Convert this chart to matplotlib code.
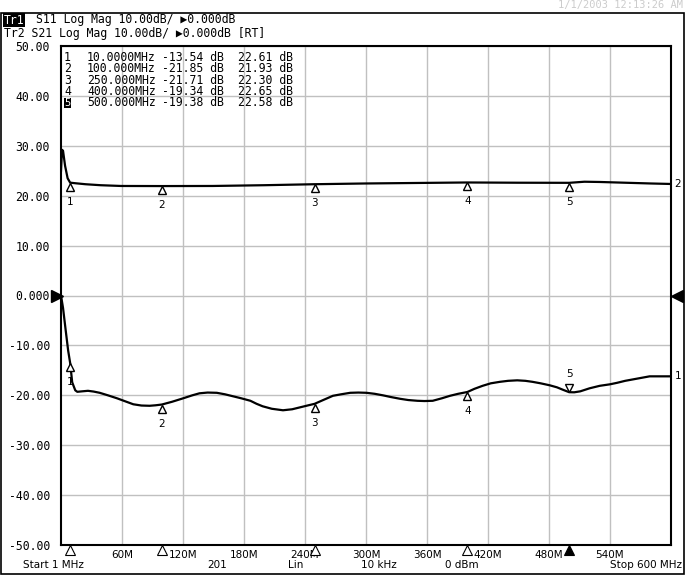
import matplotlib
matplotlib.use('Agg')
import matplotlib.pyplot as plt
import matplotlib.patches as patches
import matplotlib.transforms as mtransforms

# trace data (MHz, dB)
s11_freq = [1, 3, 5.5, 8, 10, 12, 15, 17, 22, 27.5, 33, 39, 47, 56, 64, 72, 80, 88, 94,
            100, 110, 121, 130, 137, 145, 154, 162, 170, 178, 187, 193, 199, 208, 219,
            228, 236, 244, 250, 259, 268, 276, 285, 293, 301, 309, 317, 325, 334, 342,
            351, 358, 366, 375, 383, 391, 400, 407, 415, 423, 432, 440, 449, 457, 464,
            472, 481, 488, 494, 500, 505, 511, 520, 530, 540, 547, 555, 563, 571, 579, 600]
s11_db = [0.0, -2.5, -6.8, -11.0, -13.54, -17.4, -19.0, -19.3, -19.2, -19.1, -19.25, -19.5,
          -20.0, -20.6, -21.2, -21.8, -22.05, -22.1, -22.0, -21.85, -21.3, -20.6, -20.0,
          -19.6, -19.45, -19.5, -19.8, -20.2, -20.6, -21.1, -21.7, -22.2, -22.7, -23.0,
          -22.8, -22.4, -22.0, -21.71, -20.9, -20.1, -19.8, -19.5, -19.45, -19.5, -19.7,
          -20.0, -20.35, -20.7, -20.95, -21.1, -21.15, -21.1, -20.6, -20.1, -19.7, -19.34,
          -18.7, -18.1, -17.6, -17.3, -17.1, -17.0, -17.1, -17.3, -17.6, -18.0, -18.4,
          -18.9, -19.38, -19.4, -19.2, -18.6, -18.1, -17.8, -17.5, -17.1, -16.8, -16.5,
          -16.2, -16.2]

s21_freq = [1, 2, 3, 5, 7.5, 10, 15, 25, 40, 60, 100, 150, 200, 250, 300, 350, 400,
            450, 500, 515, 530, 580, 600]
s21_db = [25.0, 29.2, 29.0, 26.0, 23.5, 22.61, 22.5, 22.3, 22.1, 21.95, 21.93, 21.95,
          22.1, 22.3, 22.45, 22.55, 22.65, 22.6, 22.58, 22.8, 22.75, 22.45, 22.35]

# marker table
marker_freq = [10, 100, 250, 400, 500]
marker_freq_txt = ['10.0000MHz', '100.000MHz', '250.000MHz', '400.000MHz', '500.000MHz']
marker_s11 = [-13.54, -21.85, -21.71, -19.34, -19.38]
marker_s21 = [22.61, 21.93, 22.30, 22.65, 22.58]

x_grid = [1 + 59.9 * k for k in range(1, 10)]
x_labels = ['60M', '120M', '180M', '240M', '300M', '360M', '420M', '480M', '540M']
y_ticks = [50, 40, 30, 20, 10, 0, -10, -20, -30, -40, -50]
y_labels = ['50.00', '40.00', '30.00', '20.00', '10.00', '0.000',
            '-10.00', '-20.00', '-30.00', '-40.00', '-50.00']

W, H = 685, 575
MONO = 'DejaVu Sans Mono'
SANS = 'DejaVu Sans'
FS = 8.3


def px(x, y):
    # pixel position (top-left origin) -> figure fraction
    return x / W, 1 - y / H


fig = plt.figure(figsize=(W / 100, H / 100), dpi=100)
ax = fig.add_axes([61 / W, 30 / H, 610 / W, 499 / H])
ax.set_xlim(1, 600)
ax.set_ylim(-50, 50)
ax.set_xticks(x_grid)
ax.set_xticklabels([])
ax.set_yticks(y_ticks)
ax.set_yticklabels(y_labels, fontfamily=MONO, fontsize=FS)
ax.tick_params(length=0, pad=8)
ax.grid(True, color='#c0c0c0', linewidth=1)
for sp in ax.spines.values():
    sp.set_linewidth(1.5)

ax.plot(s21_freq, s21_db, color='black', lw=1.6, zorder=3)
ax.plot(s11_freq, s11_db, color='black', lw=1.6, zorder=3)

# x labels just under the axis
for xg, lab in zip(x_grid, x_labels):
    ax.text(xg, -0.01, lab, transform=ax.get_xaxis_transform(), ha='center', va='top',
            fontfamily=SANS, fontsize=7.5)

# markers on the traces
below = mtransforms.offset_copy(ax.transData, fig, y=-4, units='dots')
below_num = mtransforms.offset_copy(ax.transData, fig, y=-14, units='dots')
above = mtransforms.offset_copy(ax.transData, fig, y=4, units='dots')
above_num = mtransforms.offset_copy(ax.transData, fig, y=13, units='dots')
for i, f in enumerate(marker_freq):
    ax.plot(f, marker_s21[i], marker='^', ms=6, mfc='white', mec='black', mew=1,
            transform=below, zorder=4, clip_on=False)
    ax.text(f, marker_s21[i], str(i + 1), transform=below_num, ha='center', va='top',
            fontfamily=SANS, fontsize=7.5)
    if i == 4:
        ax.plot(f, marker_s11[i], marker='v', ms=6, mfc='white', mec='black', mew=1,
                transform=above, zorder=4, clip_on=False)
        ax.text(f, marker_s11[i], str(i + 1), transform=above_num, ha='center',
                va='bottom', fontfamily=SANS, fontsize=7.5)
    else:
        ax.plot(f, marker_s11[i], marker='^', ms=6, mfc='white', mec='black', mew=1,
                transform=below, zorder=4, clip_on=False)
        ax.text(f, marker_s11[i], str(i + 1), transform=below_num, ha='center',
                va='top', fontfamily=SANS, fontsize=7.5)

# stimulus markers under the x axis
xax = ax.get_xaxis_transform()
stim = mtransforms.offset_copy(xax, fig, y=-5, units='dots')
for i, f in enumerate(marker_freq):
    ax.plot(f, 0, marker='^', ms=6.5, mfc='black' if i == 4 else 'white', mec='black',
            mew=0.8, transform=stim, clip_on=False, zorder=5)

# reference-level arrows
yax = ax.get_yaxis_transform()
ax.plot(0, 0, marker='>', ms=8, color='black', transform=mtransforms.offset_copy(
    yax, fig, x=-4, units='dots'), clip_on=False)
ax.plot(1, 0, marker='<', ms=8, color='black', transform=mtransforms.offset_copy(
    yax, fig, x=6, units='dots'), clip_on=False)

# trace numbers on the right
ax.text(1.006, s21_db[-1], '2', transform=yax, va='center', fontfamily=SANS, fontsize=7.5)
ax.text(1.006, s11_db[-1], '1', transform=yax, va='center', fontfamily=SANS, fontsize=7.5)

# marker table, one multi-line text per column
table_top = 51
col_kw = dict(va='top', fontfamily=MONO, fontsize=FS, linespacing=0.83)
fig.text(*px(64, table_top), '\n'.join(str(i + 1) for i in range(4)), **col_kw)
fig.text(*px(64, 103), '5', va='center', fontfamily=MONO, fontsize=7.6, color='white',
         bbox=dict(facecolor='black', edgecolor='none', pad=0.3))
fig.text(*px(87, table_top), '\n'.join(marker_freq_txt), **col_kw)
fig.text(*px(162, table_top), '\n'.join(f'{v:.2f} dB' for v in marker_s11), **col_kw)
fig.text(*px(238, table_top), '\n'.join(f'{v:.2f} dB' for v in marker_s21), **col_kw)

# header
fig.text(*px(4, 20), 'Tr1', va='center', fontfamily=MONO, fontsize=FS, color='white',
         bbox=dict(facecolor='black', edgecolor='none', pad=0.6))
fig.text(*px(36, 20), 'S11 Log Mag 10.00dB/ \u25B60.000dB', va='center',
         fontfamily=MONO, fontsize=FS)
fig.text(*px(4, 33), 'Tr2 S21 Log Mag 10.00dB/ \u25B60.000dB [RT]', va='center',
         fontfamily=MONO, fontsize=FS)
fig.text(*px(683, 5), '1/1/2003 12:13:26 AM', ha='right', va='center',
         fontfamily=MONO, fontsize=7.5, color='#cccccc')

# bottom status line
status_y = 565
fig.text(*px(23, status_y), 'Start 1 MHz', va='center', fontfamily=SANS, fontsize=7.5)
fig.text(*px(217, status_y), '201', ha='center', va='center', fontfamily=SANS, fontsize=7.5)
fig.text(*px(296, status_y), 'Lin', ha='center', va='center', fontfamily=SANS, fontsize=7.5)
fig.text(*px(379, status_y), '10 kHz', ha='center', va='center', fontfamily=SANS, fontsize=7.5)
fig.text(*px(462, status_y), '0 dBm', ha='center', va='center', fontfamily=SANS, fontsize=7.5)
fig.text(*px(682, status_y), 'Stop 600 MHz', ha='right', va='center', fontfamily=SANS,
         fontsize=7.5)

# outer frame of the display
x0, y0 = px(0.5, 574)
x1, y1 = px(684, 13)
fig.add_artist(patches.Rectangle((x0, y0), x1 - x0, y1 - y0, transform=fig.transFigure,
                                 fill=False, edgecolor='black', linewidth=1.2))

fig.savefig('out.png', dpi=100)
